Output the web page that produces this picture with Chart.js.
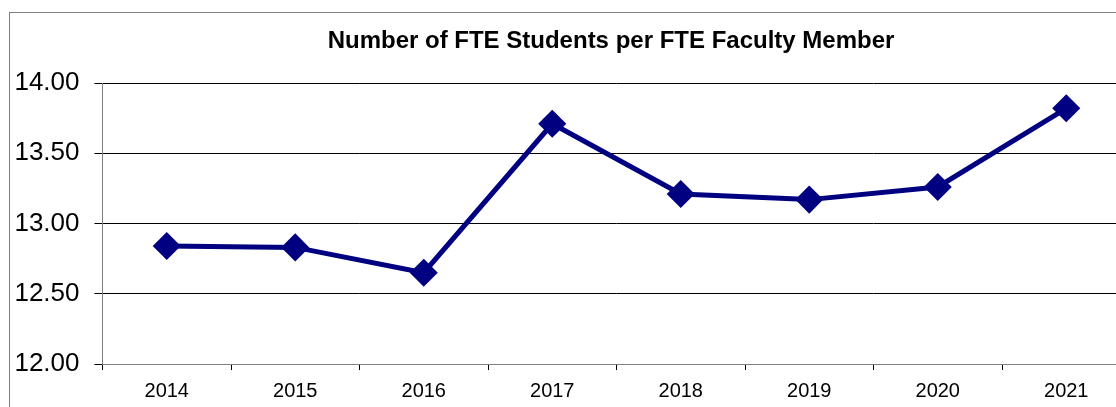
<!DOCTYPE html>
<html>
<head>
<meta charset="utf-8">
<script src="https://cdn.jsdelivr.net/npm/chart.js@4"></script>
<style>
  html, body { margin: 0; padding: 0; background: #fff; overflow: hidden; }
  #wrap { position: relative; width: 1146px; height: 407px; }
</style>
</head>
<body>
<div id="wrap"><canvas id="chart"></canvas></div>
<script>
const years = ['2014', '2015', '2016', '2017', '2018', '2019', '2020', '2021'];
const ratio = [12.84, 12.83, 12.65, 13.71, 13.21, 13.17, 13.26, 13.82];
const titleText = 'Number of FTE Students per FTE Faculty Member';
const yMin = 12, yMax = 14, yStep = 0.5;

// frame around the chart + title
const framePlugin = {
    id: 'frame',
    beforeDraw(chart) {
        const ctx = chart.ctx;
        ctx.save();
        ctx.strokeStyle = '#808080';
        ctx.lineWidth = 1;
        ctx.strokeRect(9.5, 12.5, 1200, 500);
        ctx.restore();
    },
    afterDraw(chart) {
        const ctx = chart.ctx;
        ctx.save();
        ctx.fillStyle = '#000';
        ctx.font = 'bold 24px "Liberation Sans", Arial, sans-serif';
        ctx.textAlign = 'center';
        ctx.textBaseline = 'middle';
        ctx.fillText(titleText, 611, 41);
        ctx.restore();
    }
};

const ctx = document.getElementById('chart').getContext('2d');
new Chart(ctx, {
    type: 'line',
    data: {
        labels: years,
        datasets: [{
            data: ratio,
            borderColor: '#000080',
            backgroundColor: '#000080',
            borderWidth: 5,
            pointStyle: 'rectRot',
            pointRadius: 10.5,
            pointHoverRadius: 10.5,
            tension: 0
        }]
    },
    options: {
        responsive: true, maintainAspectRatio: false, animation: false,
        layout: { padding: { top: 83, left: 0, right: 6, bottom: 0 } },
        plugins: { legend: { display: false }, title: { display: false }, tooltip: { enabled: false } },
        scales: {
            x: {
                offset: true,
                grid: { offset: true, drawOnChartArea: false, color: '#000', tickLength: 6 },
                border: { color: '#808080', width: 1 },
                ticks: { color: '#000', font: { family: '"Liberation Sans", Arial, sans-serif', size: 20 }, padding: 9, maxRotation: 0 },
                afterFit(s) { s.height = 43; }
            },
            y: {
                min: yMin, max: yMax,
                grid: { color: '#000', lineWidth: 1, tickLength: 8 },
                border: { color: '#808080', width: 1 },
                ticks: {
                    stepSize: yStep, color: '#000', padding: 15,
                    font: { family: '"Liberation Sans", Arial, sans-serif', size: 26 },
                    callback: v => v.toFixed(2)
                },
                afterFit(s) { s.width = 102.5; }
            }
        }
    },
    plugins: [framePlugin]
});
</script>
</body>
</html>
